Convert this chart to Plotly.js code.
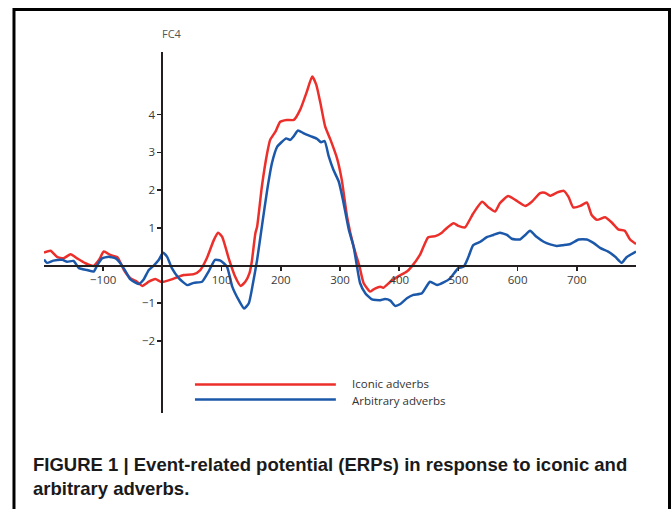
<!DOCTYPE html>
<html>
<head>
<meta charset="utf-8">
<script src="https://cdn.plot.ly/plotly-3.0.1.min.js"></script>
<style>
html,body{margin:0;padding:0;background:#fff;}
#chart{width:672px;height:509px;}
</style>
</head>
<body>
<div id="chart"></div>
<script>
// Time (ms) and amplitude (µV), electrode FC4
const iconicTime = [-200,-189,-178,-167,-155,-144,-130,-116,-107,-99,-88,-76,-65,-54,-43,-34,-23,-12,-3,2,13,25,36,53,64,75,87,94,101,112,123,132,140,147,151,157,160,168,177,182,191,199,210,222,233,244,253,260,267,275,284,295,303,312,323,333,340,351,359,368,373,385,399,413,421,435,449,461,472,480,492,500,511,525,540,551,562,570,584,596,613,624,638,646,655,666,678,686,694,706,717,725,734,748,759,770,781,790,800];
const iconicValues = [0.34,0.39,0.23,0.19,0.30,0.19,0.06,-0.01,0.15,0.37,0.28,0.22,-0.12,-0.34,-0.43,-0.54,-0.43,-0.36,-0.43,-0.43,-0.38,-0.31,-0.25,-0.23,-0.12,0.19,0.68,0.87,0.76,0.19,-0.30,-0.54,-0.43,-0.21,0.10,0.85,1.03,2.09,2.98,3.33,3.55,3.81,3.86,3.86,4.14,4.61,5.01,4.79,4.30,3.68,3.33,2.84,2.27,1.29,0.50,-0.03,-0.47,-0.69,-0.61,-0.56,-0.59,-0.43,-0.28,-0.16,-0.03,0.28,0.75,0.78,0.87,0.99,1.12,1.05,1.01,1.38,1.69,1.54,1.43,1.65,1.84,1.74,1.58,1.69,1.92,1.93,1.85,1.93,1.98,1.82,1.54,1.58,1.67,1.34,1.21,1.28,1.14,0.96,0.92,0.69,0.57];
const arbitraryTime = [-200,-195,-184,-169,-161,-150,-141,-127,-116,-110,-102,-91,-79,-71,-62,-54,-40,-32,-23,-15,-6,1,8,16,28,42,53,67,78,89,98,109,118,129,138,146,153,160,168,177,185,194,202,209,216,222,229,238,250,261,268,274,281,289,298,305,315,323,334,343,354,368,376,385,393,402,413,424,438,452,464,475,486,500,509,517,525,537,548,559,570,582,590,604,613,621,632,644,655,666,677,689,703,717,728,740,753,765,776,784,800];
const arbitraryValues = [0.16,0.07,0.13,0.15,0.10,0.12,-0.07,-0.12,-0.16,0.01,0.19,0.23,0.19,0.06,-0.16,-0.37,-0.49,-0.38,-0.12,-0.01,0.15,0.34,0.23,-0.07,-0.34,-0.52,-0.46,-0.43,-0.16,0.15,0.13,-0.03,-0.56,-0.92,-1.14,-1.00,-0.47,0.15,1.03,2.00,2.71,3.15,3.28,3.37,3.33,3.43,3.58,3.51,3.43,3.36,3.27,3.30,2.89,2.53,2.22,1.74,0.94,0.50,-0.47,-0.74,-0.90,-0.92,-0.89,-0.93,-1.07,-1.02,-0.87,-0.78,-0.74,-0.43,-0.52,-0.45,-0.34,-0.07,-0.03,0.23,0.54,0.63,0.75,0.81,0.87,0.81,0.71,0.69,0.81,0.92,0.76,0.63,0.56,0.52,0.54,0.57,0.69,0.69,0.60,0.46,0.37,0.23,0.07,0.22,0.37];
const xTickVals = [-100,100,200,300,400,500,600,700];
const yTickVals = [-2,-1,1,2,3,4];
const seriesNames = ['Iconic adverbs','Arbitrary adverbs'];
const electrode = 'FC4';
const captionLine1 = '<b>FIGURE 1 | Event-related potential (ERPs) in response to iconic and</b>';
const captionLine2 = '<b>arbitrary adverbs.</b>';

const RED = '#ec2f2a';
const BLUE = '#1c58aa';
const AX = '#231f20';

const xRange = [-200, 800];
const yRange = [-3.91, 5.66];
const xAxisPos = (0 - yRange[0]) / (yRange[1] - yRange[0]);
const yAxisPos = (0 - xRange[0]) / (xRange[1] - xRange[0]);

const traces = [
  {x: iconicTime, y: iconicValues, name: seriesNames[0], mode: 'lines',
   line: {color: RED, width: 2.5, shape: 'spline', smoothing: 0.5}, showlegend: false},
  {x: arbitraryTime, y: arbitraryValues, name: seriesNames[1], mode: 'lines',
   line: {color: BLUE, width: 2.5, shape: 'spline', smoothing: 0.5}, showlegend: false}
];

const tickFont = {family: 'Open Sans, sans-serif', size: 11.5, color: '#3a3a3a'};

const layout = {
  width: 672, height: 509,
  margin: {l: 44, r: 36, t: 52, b: 96, pad: 0},
  paper_bgcolor: '#ffffff', plot_bgcolor: '#ffffff',
  showlegend: false,
  xaxis: {
    range: xRange, anchor: 'free', position: xAxisPos,
    showline: true, linecolor: AX, linewidth: 2,
    ticks: 'outside', ticklen: 4, tickwidth: 1.5, tickcolor: AX,
    tickmode: 'array', tickvals: xTickVals,
    tickfont: tickFont, showgrid: false, zeroline: false
  },
  yaxis: {
    range: yRange, anchor: 'free', position: yAxisPos,
    showline: true, linecolor: AX, linewidth: 2,
    ticks: 'outside', ticklen: 4, tickwidth: 1.5, tickcolor: AX,
    tickmode: 'array', tickvals: yTickVals,
    tickfont: tickFont, showgrid: false, zeroline: false
  },
  shapes: [
    {type: 'line', xref: 'paper', yref: 'paper', x0: 0.255, x1: 0.493, y0: 0.0789, y1: 0.0789,
     line: {color: RED, width: 2.5}},
    {type: 'line', xref: 'paper', yref: 'paper', x0: 0.255, x1: 0.493, y0: 0.0374, y1: 0.0374,
     line: {color: BLUE, width: 2.5}},
    {type: 'rect', xref: 'paper', yref: 'paper', x0: -0.0507, x1: 1.0566, y0: -0.4, y1: 1.1177,
     line: {color: '#000000', width: 3}}
  ],
  annotations: [
    {xref: 'paper', yref: 'paper', x: 0.2157, y: 1.0526, text: electrode, showarrow: false,
     xanchor: 'center', yanchor: 'middle', font: {family: 'Open Sans, sans-serif', size: 11, color: '#555'}},
    {xref: 'paper', yref: 'paper', x: 0.518, y: 0.0831, text: seriesNames[0], showarrow: false,
     xanchor: 'left', yanchor: 'middle', borderpad: 0, font: {family: 'Open Sans, sans-serif', size: 11.5, color: '#333'}},
    {xref: 'paper', yref: 'paper', x: 0.518, y: 0.0360, text: seriesNames[1], showarrow: false,
     xanchor: 'left', yanchor: 'middle', borderpad: 0, font: {family: 'Open Sans, sans-serif', size: 11.5, color: '#333'}},
    {xref: 'paper', yref: 'paper', x: -0.022, y: -0.1413, text: captionLine1, showarrow: false,
     xanchor: 'left', yanchor: 'middle', font: {family: 'Liberation Sans, Arial, sans-serif', size: 18.5, color: '#1a1a1a'}},
    {xref: 'paper', yref: 'paper', x: -0.022, y: -0.2105, text: captionLine2, showarrow: false,
     xanchor: 'left', yanchor: 'middle', font: {family: 'Liberation Sans, Arial, sans-serif', size: 18.5, color: '#1a1a1a'}}
  ]
};

Plotly.newPlot('chart', traces, layout, {staticPlot: true, displayModeBar: false});
</script>
</body>
</html>
